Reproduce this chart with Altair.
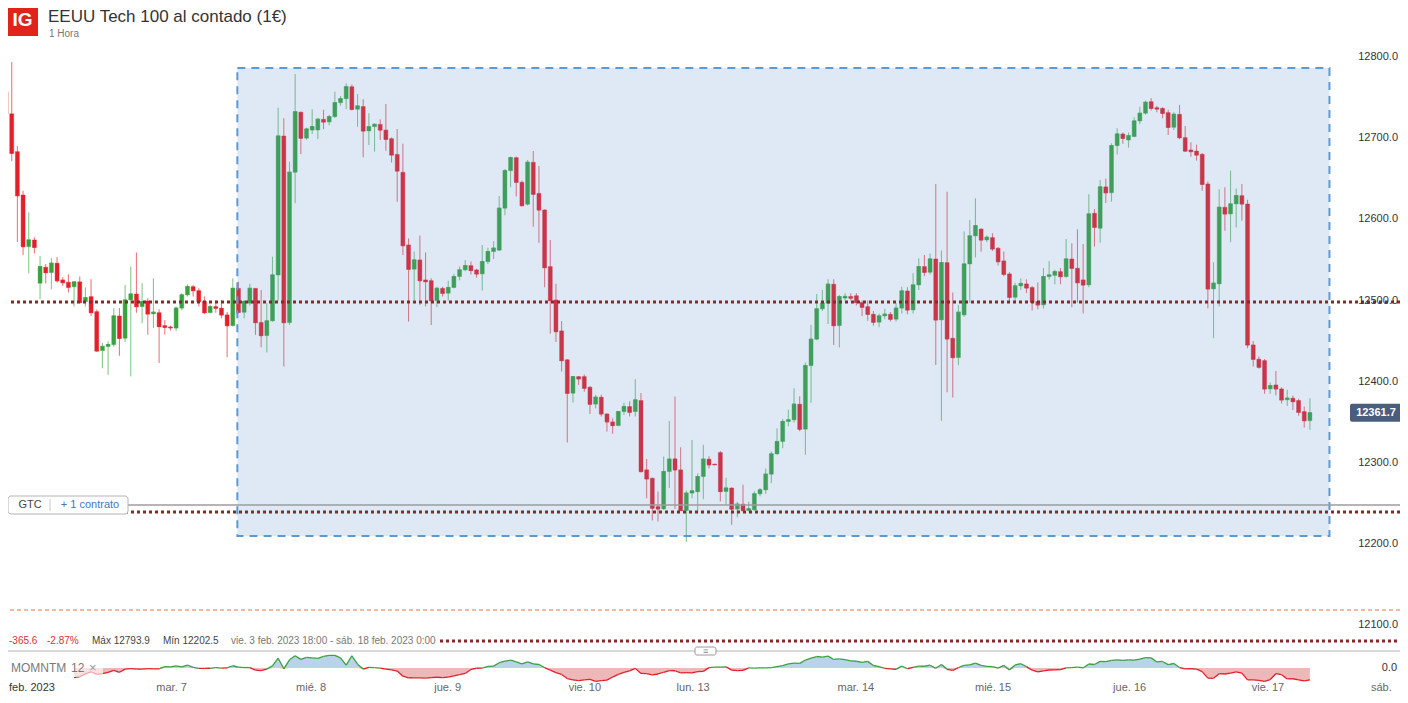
import altair as alt
import pandas as pd

# ---------------- data (1-hour candles) ----------------
OPEN = [
    12757, 12730, 12683.4, 12630, 12566.4, 12574.6, 12521.3, 12541, 12534.4, 12546,
    12525.4, 12522.5, 12517, 12523, 12498.7, 12504.8, 12486.3, 12438.4, 12443.4, 12445.7,
    12481, 12453.5, 12500.7, 12508, 12492.5, 12499.5, 12483.5, 12485, 12469.1, 12467.5,
    12466, 12490.6, 12506.9, 12517.1, 12512.2, 12498.7, 12485.1, 12492.5, 12490.6, 12482.3,
    12469.1, 12515, 12485.5, 12496.7, 12515, 12473, 12456.8, 12474.9, 12531.5, 12702.7,
    12472.8, 12658, 12732, 12700, 12710, 12710.1, 12723.3, 12720, 12726.5, 12743.7,
    12748.6, 12763.4, 12735.6, 12739, 12708.9, 12714.2, 12717, 12710, 12699.4, 12680,
    12658, 12568.5, 12538.6, 12550, 12525.4, 12524.5, 12499.9, 12515, 12509, 12516,
    12529.5, 12537.7, 12543, 12537.7, 12532.8, 12547.9, 12560.3, 12562, 12613.7, 12660,
    12676, 12645.7, 12618.6, 12670.3, 12632, 12611.6, 12541.8, 12500.7, 12462.6, 12427,
    12385.8, 12406.3, 12406.3, 12393.2, 12372.3, 12380.9, 12360.3, 12350.5, 12346, 12363.2,
    12369.4, 12363.2, 12376.8, 12291.4, 12281, 12246.1, 12243.3, 12289.3, 12305, 12291.4,
    12241.3, 12262.7, 12264.3, 12283.1, 12304.6, 12298.5, 12312.7, 12264.7, 12269, 12243,
    12249.1, 12241.3, 12242.2, 12261.8, 12266.7, 12286, 12311, 12326.3, 12350.9, 12353,
    12372.3, 12341.5, 12419.8, 12452.3, 12489.7, 12496.7, 12520.1, 12469.1, 12503, 12505,
    12505.9, 12497.5, 12492.5, 12483.1, 12473.3, 12481, 12483.1, 12477, 12490.6, 12511.8,
    12488.4, 12519.2, 12541.8, 12534.8, 12551.2, 12476.1, 12546.7, 12453.5, 12429.7, 12482.3,
    12545, 12579.6, 12588, 12574.6, 12577.5, 12564.4, 12548.8, 12532.8, 12504, 12518,
    12520.5, 12516, 12498.7, 12494.6, 12529.5, 12531, 12535.6, 12529.5, 12551.2, 12539.8,
    12525.4, 12519.2, 12607.5, 12589, 12640, 12632.8, 12690.8, 12705.2, 12697.7, 12702,
    12721.2, 12730.7, 12745, 12737.6, 12736.8, 12731.5, 12713.4, 12729.4, 12700.7, 12685.5,
    12684.2, 12680.2, 12643.6, 12514.3, 12520.5, 12614.9, 12606.7, 12619, 12629.2, 12619,
    12445.3, 12427.7, 12426, 12391.1, 12396, 12391.1, 12377.6, 12379.7, 12376.8, 12363.2, 12352,
]
HIGH = [
    12833, 12793.9, 12690.4, 12635.3, 12608.7, 12578, 12554.9, 12545, 12552, 12553.6,
    12528.7, 12532.4, 12523.8, 12529.5, 12516.4, 12526.3, 12489, 12447.6, 12449.7, 12490.4,
    12490.8, 12519.2, 12541.8, 12559, 12521.3, 12502.8, 12527.5, 12489.2, 12476, 12469,
    12492.7, 12509, 12520, 12519, 12515, 12505, 12495, 12500, 12500.7, 12486,
    12527.5, 12523, 12500.7, 12520.5, 12515, 12513, 12496.7, 12554, 12737.6, 12724.5,
    12671, 12779, 12733, 12713, 12735.6, 12725, 12735, 12729, 12757.3, 12752,
    12767.6, 12766, 12754.4, 12748, 12730.7, 12718.3, 12723.3, 12742, 12701, 12711.3,
    12693, 12576.6, 12560.3, 12580, 12559, 12527.5, 12517, 12517, 12524.5, 12533,
    12541.8, 12550, 12548, 12539, 12568.5, 12565, 12573, 12628.8, 12662, 12677.3,
    12677.3, 12648, 12673, 12684.2, 12665.8, 12612.4, 12574.6, 12520.5, 12474.9, 12428,
    12407, 12407, 12409, 12394.8, 12383.8, 12383.8, 12361, 12355, 12364, 12374,
    12376, 12403.1, 12386, 12304.6, 12282, 12264.7, 12307.8, 12351.7, 12381.7, 12319.3,
    12266, 12328.3, 12287, 12322.2, 12308, 12299, 12314.5, 12281.7, 12270, 12252,
    12272.9, 12252, 12265, 12269, 12293, 12314, 12342.7, 12354, 12365.3, 12392,
    12382, 12423.6, 12470, 12508, 12513, 12526.3, 12526.3, 12506.9, 12509, 12509,
    12509, 12500, 12500, 12487, 12484, 12490, 12486, 12497, 12517.1, 12516.4,
    12533.6, 12552.1, 12556, 12558, 12643.6, 12561.5, 12634, 12510, 12494.6, 12584.9,
    12599.3, 12626, 12589, 12580, 12583, 12566, 12560.3, 12535, 12522, 12527,
    12526, 12518, 12522.1, 12540, 12548.8, 12538, 12540, 12575.9, 12570.5, 12587.8,
    12569.7, 12631, 12612.9, 12648.5, 12650, 12693.7, 12712.2, 12707, 12707, 12725.7,
    12738.8, 12746.2, 12749.1, 12740, 12738, 12735, 12732, 12741, 12715, 12695,
    12692, 12681.4, 12646.5, 12547.2, 12637, 12639.6, 12660, 12638, 12643.6, 12624,
    12450, 12431, 12428, 12399, 12413.3, 12393, 12390, 12383, 12379, 12369.4, 12379.7,
]
LOW = [
    12722, 12672, 12572.2, 12556, 12533.6, 12558, 12501.6, 12521, 12514, 12522,
    12518, 12509.8, 12492.5, 12496.7, 12492.5, 12481, 12437, 12416.6, 12408.4, 12443,
    12431.8, 12449, 12406.3, 12485, 12472, 12457.7, 12466, 12423, 12458, 12463,
    12462.3, 12488, 12505, 12505, 12492.5, 12483, 12484, 12485, 12478, 12430,
    12468, 12484, 12478, 12494, 12457.7, 12442.5, 12436, 12474, 12500, 12418.6,
    12470, 12619.8, 12680.5, 12698, 12705, 12699, 12711, 12716, 12725, 12740,
    12735.6, 12734, 12714.2, 12676.5, 12691.6, 12683.4, 12697.8, 12684.6, 12670, 12621.8,
    12556, 12474, 12500.7, 12494.6, 12492.5, 12469.8, 12492, 12505, 12500, 12515,
    12525, 12536, 12532, 12528, 12512.2, 12545, 12551, 12561, 12605, 12639.6,
    12628, 12616, 12617, 12591, 12571.3, 12516.4, 12458.9, 12449, 12412.5, 12325,
    12374.4, 12396, 12387.5, 12360.3, 12367, 12357, 12338.5, 12336, 12345, 12359,
    12357, 12357, 12288, 12256.5, 12229, 12227.8, 12242, 12269, 12243, 12241,
    12202.5, 12256.5, 12240, 12255.3, 12293, 12297, 12252.4, 12248, 12223.7, 12233,
    12240, 12240, 12241, 12259, 12262, 12275, 12310, 12318, 12345, 12349.6,
    12339, 12310, 12374, 12451, 12487, 12471.2, 12445.3, 12442, 12500, 12500,
    12494, 12481, 12475, 12469, 12467, 12477, 12474, 12474, 12484, 12483,
    12484, 12513, 12530, 12532, 12420.7, 12352, 12387, 12380.5, 12420.7, 12480,
    12497, 12553, 12560, 12572, 12561, 12543, 12530, 12499, 12497.5, 12513,
    12509, 12487.6, 12489.2, 12490, 12526, 12520, 12520, 12528, 12491.8, 12497.5,
    12484, 12516.4, 12566.4, 12571.3, 12620, 12621.8, 12680, 12693, 12688.3, 12701,
    12717, 12729, 12734, 12732, 12724.5, 12704, 12710, 12698.6, 12683, 12677.2,
    12672.3, 12635.3, 12490.5, 12453.6, 12492.5, 12586.1, 12571.8, 12589.8, 12598.4, 12441.3,
    12418.6, 12416, 12385, 12385, 12383, 12373, 12370, 12365, 12358, 12343.6, 12340.7,
]
CLOSE = [
    12730, 12681.4, 12629.2, 12566.4, 12574.6, 12565.6, 12541.8, 12534.4, 12546, 12524.5,
    12522, 12516.4, 12522.9, 12497.5, 12503.5, 12485.1, 12437.9, 12443.4, 12445.7, 12481,
    12453.5, 12500.7, 12508, 12492.5, 12498.7, 12483.5, 12485.6, 12467.9, 12467, 12466.5,
    12490.6, 12506.9, 12517.1, 12512.2, 12498.7, 12485.1, 12492.5, 12490.6, 12482.3, 12469.1,
    12515, 12485.5, 12498.7, 12515, 12472.8, 12456.8, 12474.9, 12531.5, 12702.7, 12472.8,
    12658, 12732.6, 12700, 12711.3, 12714.3, 12723.3, 12720, 12726.5, 12743.7, 12748.6,
    12763.4, 12735.6, 12739.7, 12708.9, 12714.2, 12717, 12710.1, 12698.6, 12679.3, 12659.6,
    12567.6, 12538.6, 12550, 12524.5, 12523.3, 12499.9, 12515, 12509, 12516, 12529.5,
    12537.7, 12543, 12537, 12532.8, 12547.9, 12560.3, 12564.5, 12613.7, 12660, 12676,
    12645.7, 12616.9, 12670.3, 12631, 12611.6, 12540.5, 12500, 12461.7, 12426, 12385.8,
    12406.3, 12403.5, 12392, 12372.3, 12380.9, 12360.3, 12350.5, 12346, 12363.2, 12369.4,
    12362.4, 12377.6, 12289.3, 12280.3, 12244.2, 12243.3, 12289.3, 12304.6, 12291.4, 12241.3,
    12262.7, 12265.5, 12283.1, 12304.6, 12297.6, 12297.8, 12264.7, 12269, 12243, 12249.1,
    12241.3, 12243.4, 12261.8, 12266.7, 12286.1, 12311, 12326.3, 12350.9, 12353, 12372.3,
    12341.5, 12419.8, 12452.3, 12489.7, 12496.7, 12520.1, 12469.1, 12504.8, 12505, 12503,
    12497.5, 12491.8, 12483.1, 12473.3, 12481, 12483.1, 12477, 12490.6, 12511.8, 12488.4,
    12519.2, 12541.8, 12534.8, 12551.2, 12476.1, 12546.7, 12452.7, 12429.7, 12485.6, 12545,
    12579.6, 12592.2, 12574.6, 12577.9, 12563.6, 12547.9, 12532.4, 12504, 12518, 12521,
    12515.5, 12498, 12494.6, 12529.5, 12531.5, 12535.6, 12529.5, 12551.2, 12539.8, 12522,
    12519.2, 12606.7, 12590.3, 12640, 12632.8, 12690.8, 12705.2, 12699.9, 12703.1, 12721.2,
    12730.7, 12744.2, 12736.8, 12736, 12730.7, 12713.4, 12729.4, 12700.7, 12684.2, 12683.5,
    12679.3, 12643.2, 12514.3, 12521.3, 12614.9, 12606.7, 12619, 12629.2, 12619, 12445.3,
    12427.7, 12417.9, 12391.1, 12395.2, 12391.1, 12377.6, 12379.7, 12375.5, 12362.4, 12352, 12361.7,
]

# price levels drawn on the chart
DOTTED_LEVELS = [12498.2, 12239.4]
LOW_DOTTED_LEVEL = [12080.5]
GREY_LEVEL = [12248.1]
ORANGE_LEVEL = [12118.7]
LAST_PRICE = [12361.7]

# highlighted zone (candle index range, price range)
ZONE_I = [40.8, 233.45]
ZONE_P = [12786.4, 12209.9]

Y_TICKS = [12800, 12700, 12600, 12500, 12400, 12300, 12200, 12100]
DAY_LABELS = ["mar. 7", "mié. 8", "jue. 9", "vie. 10", "lun. 13", "mar. 14",
              "mié. 15", "jue. 16", "vie. 17", "sáb."]
DAY_POS = [29.2, 53.8, 77.9, 102.1, 121.2, 149.9, 174.1, 198.2, 222.6, 242.6]
MOM_PERIOD = 12

INFO_TEXTS = ["-365.6", "-2.87%", "Máx 12793.9", "Mín 12202.5",
              "vie. 3 feb. 2023 18:00 - sáb. 18 feb. 2023 0:00"]

# ---------------- styling ----------------
FONT = "Liberation Sans"
GREEN = "#38a23f"
RED = "#e3202a"
W, H = 1392, 687

xs = alt.Scale(domain=[1.226, 245.01], nice=False, zero=False)
ps = alt.Scale(domain=[12014.0, 12860.37], nice=False, zero=False)
ms = alt.Scale(domain=[-580.0, 14170.0], nice=False, zero=False)

N = len(CLOSE)
cdf = pd.DataFrame({
    "i": list(range(N)), "open": OPEN, "close": CLOSE,
    "high": [max(h, o, c) for h, o, c in zip(HIGH, OPEN, CLOSE)],
    "low": [min(l, o, c) for l, o, c in zip(LOW, OPEN, CLOSE)],
})
cdf["dir"] = ["up" if c >= o else "down" for o, c in zip(OPEN, CLOSE)]

dir_scale = alt.Scale(domain=["up", "down"], range=[GREEN, RED])
X = alt.X("i:Q", scale=xs, axis=None)

wicks = alt.Chart(cdf).mark_rule(strokeWidth=1.1, opacity=0.6, clip=True).encode(
    X, alt.Y("low:Q", scale=ps, axis=None), alt.Y2("high:Q"),
    color=alt.Color("dir:N", scale=dir_scale, legend=None))
bodies = alt.Chart(cdf).mark_bar(size=4, clip=True, strokeWidth=1, strokeOpacity=0.4).encode(
    X, alt.Y("open:Q", scale=ps, axis=None), alt.Y2("close:Q"),
    color=alt.Color("dir:N", scale=dir_scale, legend=None),
    stroke=alt.Stroke("dir:N", scale=dir_scale, legend=None))
closes = alt.Chart(cdf).mark_tick(orient="horizontal", size=4, thickness=1.2, clip=True).encode(
    X, alt.Y("close:Q", scale=ps, axis=None),
    color=alt.Color("dir:N", scale=dir_scale, legend=None))

zone_df = pd.DataFrame({"x1": [ZONE_I[0]], "x2": [ZONE_I[1]], "y1": [ZONE_P[0]], "y2": [ZONE_P[1]]})
zone = alt.Chart(zone_df).mark_rect(fill="#5f91cd", fillOpacity=0.2, stroke="#5b9bd5",
                                    strokeWidth=2, strokeDash=[8, 6]).encode(
    x=alt.X("x1:Q", scale=xs, axis=None), x2="x2:Q",
    y=alt.Y("y1:Q", scale=ps, axis=None), y2="y2:Q")

def hline(levels, **kw):
    return alt.Chart(pd.DataFrame({"p": levels})).mark_rule(**kw).encode(
        y=alt.Y("p:Q", scale=ps, axis=None))

orange = hline(ORANGE_LEVEL, color="#f2a07e", strokeWidth=1.5, strokeDash=[4, 3])
grey = hline(GREY_LEVEL, color="#9c9c9c", strokeWidth=1.5)
dotted = hline(DOTTED_LEVELS, color="#832b2b", strokeWidth=3, strokeDash=[3, 3])
low_dotted = alt.Chart(pd.DataFrame({"p": LOW_DOTTED_LEVEL})).mark_rule(
    color="#832b2b", strokeWidth=3, strokeDash=[3, 3]).encode(
    y=alt.Y("p:Q", scale=ps, axis=None), x=alt.value(432), x2=alt.value(W))

one = pd.DataFrame({"k": [0]})

def box(x1, x2, y1, y2, **kw):
    return alt.Chart(one).mark_rect(**kw).encode(
        x=alt.value(x1), x2=alt.value(x2), y=alt.value(y1), y2=alt.value(y2))

def label(txt, x, y, **kw):
    base = dict(font=FONT, baseline="middle")
    base.update(kw)
    return alt.Chart(one).mark_text(text=txt, **base).encode(x=alt.value(x), y=alt.value(y))

# GTC order tag
gtc_box = box(0, 120, 488, 506, fill="white", stroke="#b4b4b4", strokeWidth=1, cornerRadius=3)
gtc_sep = alt.Chart(one).mark_rule(color="#c8c8c8").encode(
    x=alt.value(42), y=alt.value(491), y2=alt.value(503))
gtc_t1 = label("GTC", 22, 497, fontSize=11, color="#444", align="center")
gtc_t2 = label("+ 1 contrato", 82, 497, fontSize=11, color="#3d7ab8", align="center")

# info bar
info_colors = ["#d6323a", "#d6323a", "#444", "#444", "#777"]
info_x = [1, 39, 84, 155, 223]
info = [label(t, x, 633, fontSize=10, color=c, align="left")
        for t, x, c in zip(INFO_TEXTS, info_x, info_colors)]

# divider above indicator panel
divider = alt.Chart(one).mark_rule(color="#b3b3b3", strokeWidth=1).encode(y=alt.value(643))
handle = box(687, 708, 639, 647, fill="white", stroke="#9a9a9a", strokeWidth=1, cornerRadius=2)
handle_t = label("≡", 697.5, 643, fontSize=9, color="#888", align="center")

# momentum indicator
mi, mv = [], []
for k in range(MOM_PERIOD, N):
    mi.append(k)
    mv.append(CLOSE[k] - CLOSE[k - MOM_PERIOD])
mdf = pd.DataFrame({"i": mi, "m": mv})
mdf["pos"] = mdf["m"].clip(lower=0)
mdf["neg"] = mdf["m"].clip(upper=0)
mdf["zero"] = 0.0
seg = pd.DataFrame({"i": mi[:-1], "i2": mi[1:], "m": mv[:-1], "m2": mv[1:]})
seg["sgn"] = ["pos" if a + b >= 0 else "neg" for a, b in zip(mv[:-1], mv[1:])]

mom_pos = alt.Chart(mdf).mark_area(color="#bad2ea").encode(
    X, alt.Y("pos:Q", scale=ms, axis=None), alt.Y2("zero:Q"))
mom_neg = alt.Chart(mdf).mark_area(color="#ecb8b8").encode(
    X, alt.Y("neg:Q", scale=ms, axis=None), alt.Y2("zero:Q"))
mom_line = alt.Chart(seg).mark_rule(strokeWidth=1.3).encode(
    X, alt.X2("i2:Q"), alt.Y("m:Q", scale=ms, axis=None), alt.Y2("m2:Q"),
    color=alt.Color("sgn:N", scale=alt.Scale(domain=["pos", "neg"], range=[GREEN, RED]), legend=None))
mom_bg = box(0, 95, 651, 669, fill="white", opacity=0.6)
mom_t1 = label("MOMNTM", 3, 660, fontSize=12, color="#7a7a7a", align="left")
mom_t2 = label("12", 63, 660, fontSize=12, color="#7a7a7a", align="left")
mom_t3 = label("×", 81, 660, fontSize=13, color="#999", align="left")
zero_lbl = alt.Chart(pd.DataFrame({"m": [0.0], "t": ["0.0"]})).mark_text(
    font=FONT, fontSize=11, color="#333", align="right", baseline="middle").encode(
    x=alt.value(1389), y=alt.Y("m:Q", scale=ms, axis=None), text="t:N")

# right price axis
ydf = pd.DataFrame({"p": Y_TICKS, "t": [f"{v:.1f}" for v in Y_TICKS]})
yaxis = alt.Chart(ydf).mark_text(font=FONT, fontSize=11, color="#333", align="right",
                                 baseline="middle").encode(
    x=alt.value(1390), y=alt.Y("p:Q", scale=ps, axis=None), text="t:N")
ldf = pd.DataFrame({"p": LAST_PRICE, "t": [f"{v:.1f}" for v in LAST_PRICE]})
tag = alt.Chart(ldf).mark_tick(orient="horizontal", size=52, thickness=18, color="#4a5d7d",
                               opacity=1, cornerRadius=2).encode(
    x=alt.value(1368), y=alt.Y("p:Q", scale=ps, axis=None))
tag_t = alt.Chart(ldf).mark_text(font=FONT, fontSize=11, fontWeight="bold", color="white",
                                 align="center", baseline="middle").encode(
    x=alt.value(1368), y=alt.Y("p:Q", scale=ps, axis=None), text="t:N")

# x axis day labels
ddf = pd.DataFrame({"pos": DAY_POS, "t": DAY_LABELS})
xaxis = alt.Chart(ddf).mark_text(font=FONT, fontSize=11, color="#666", align="center",
                                 baseline="middle").encode(
    x=alt.X("pos:Q", scale=xs, axis=None), y=alt.value(680), text="t:N")
feb = label("feb. 2023", 1, 680, fontSize=11, color="#333", align="left")

# header
logo = box(-1, 30, -4, 28, fill="#e2231a")
logo_t = label("IG", 14.5, 12, fontSize=19, fontWeight="bold", color="white", align="center")
title = label("EEUU Tech 100 al contado (1€)", 40, 9, fontSize=17, color="#333", align="left")
subtitle = label("1 Hora", 41, 26, fontSize=10, color="#777", align="left")

chart = alt.layer(
    wicks, bodies, closes, zone, orange, grey, dotted, low_dotted,
    gtc_box, gtc_sep, gtc_t1, gtc_t2, *info, divider, handle, handle_t,
    mom_pos, mom_neg, mom_line, mom_bg, mom_t1, mom_t2, mom_t3, zero_lbl,
    yaxis, tag, tag_t, xaxis, feb, logo, logo_t, title, subtitle,
).resolve_scale(y="independent").properties(
    width=W, height=H, padding=0, autosize=alt.AutoSizeParams(type="none"),
    background="white",
).configure_view(stroke=None)

chart.save("out.html", embed_options={"renderer": "svg", "actions": False})
